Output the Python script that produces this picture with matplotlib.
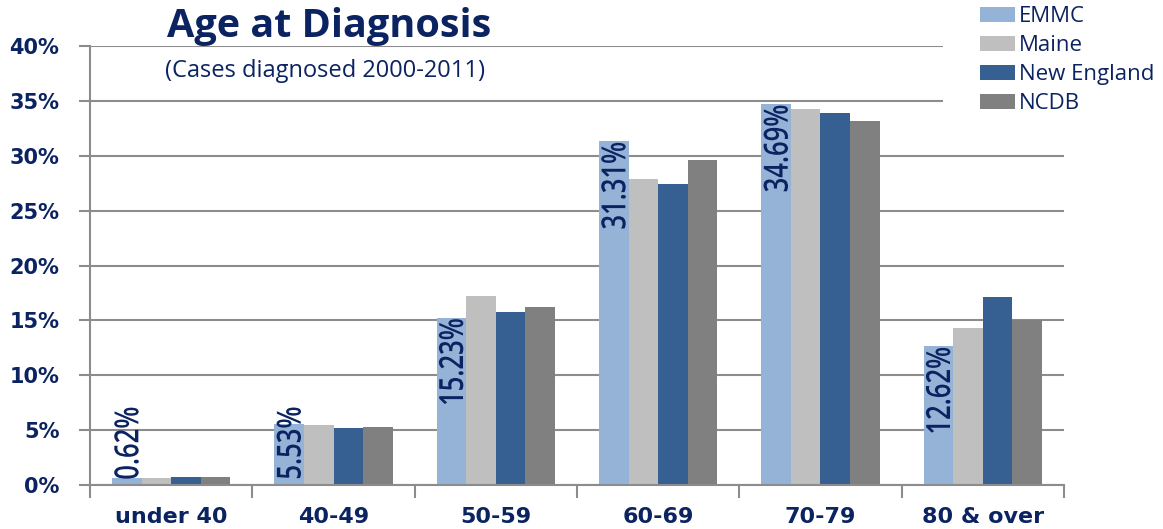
import numpy as np
import matplotlib
matplotlib.use("Agg")
import matplotlib.pyplot as plt
from matplotlib.patheffects import AbstractPathEffect
from matplotlib.transforms import Affine2D, offset_copy

# data (percent of cases)
age_groups = ["under 40", "40-49", "50-59", "60-69", "70-79", "80 & over"]
series_names = ["EMMC", "Maine", "New England", "NCDB"]
emmc = [0.62, 5.53, 15.23, 31.31, 34.69, 12.62]
maine = [0.68, 5.45, 17.25, 27.9, 34.25, 14.27]
new_england = [0.77, 5.15, 15.75, 27.4, 33.9, 17.1]
ncdb = [0.77, 5.33, 16.2, 29.6, 33.2, 15.0]
y_ticks = [0, 5, 10, 15, 20, 25, 30, 35, 40]

colors = ["#95B3D7", "#BFBFBF", "#376092", "#808080"]
navy = "#0B2361"
grid_gray = "#8C8C8C"


class Squeeze(AbstractPathEffect):
    # draws the text narrower along its baseline (the labels use a condensed face)
    def __init__(self, sx, keep_end=False):
        super().__init__()
        self.sx = sx
        self.keep_end = keep_end

    def draw_path(self, renderer, gc, tpath, affine, rgbFace=None):
        ext = tpath.get_extents()
        x0 = ext.x1 if self.keep_end else ext.x0
        sq = Affine2D().translate(-x0, 0).scale(self.sx, 1).translate(x0, 0)
        renderer.draw_path(gc, tpath, sq + affine, rgbFace)


fig = plt.figure(figsize=(11.63, 5.29), dpi=100)
ax = fig.add_axes([90 / 1163, 44 / 529, 974 / 1163, 439 / 529])

x = np.arange(len(age_groups))
w = 0.182
all_series = [emmc, maine, new_england, ncdb]
for i, vals in enumerate(all_series):
    ax.bar(x + (i - 1.5) * w, vals, width=w, color=colors[i],
           label=series_names[i], zorder=2)

# rotated value labels on the EMMC bars
label_tr = offset_copy(ax.transData, fig=fig, x=3, y=0, units="dots")
for xi, v in zip(x, emmc):
    txt = "%.2f%%" % v
    if v > 8:
        ax.text(xi - 1.5 * w, v, txt, rotation=90, ha="center", va="top",
                fontsize=24, fontweight="semibold", color=navy, zorder=3,
                family="Open Sans", transform=label_tr,
                path_effects=[Squeeze(0.77, keep_end=True)])
    else:
        ax.text(xi - 1.5 * w, 0.45, txt, rotation=90, ha="center", va="bottom",
                fontsize=24, fontweight="semibold", color=navy, zorder=3,
                family="Open Sans", transform=label_tr,
                path_effects=[Squeeze(0.77)])

ax.set_xlim(-0.5, len(age_groups) - 0.5)
ax.set_ylim(0, 40)
ax.set_yticks(y_ticks)
ax.set_yticklabels(["%d%%" % t for t in y_ticks])
ax.yaxis.grid(True, color=grid_gray, linewidth=1.5)
ax.set_axisbelow(True)

# ticks between categories, labels at the centers
ax.set_xticks(np.arange(len(age_groups) + 1) - 0.5)
ax.set_xticklabels([])
ax.set_xticks(x, minor=True)
ax.set_xticklabels(age_groups, minor=True)
ax.tick_params(axis="x", which="major", length=9, width=1.5, color=grid_gray,
               direction="out")
ax.tick_params(axis="x", which="minor", length=0, pad=16, labelsize=16,
               labelcolor=navy)
ax.tick_params(axis="y", length=8, width=1.5, color=grid_gray, pad=14,
               labelsize=15, labelcolor=navy)
for lab in ax.get_xticklabels(minor=True) + ax.get_yticklabels():
    lab.set_fontweight("bold")

for side in ["top", "right"]:
    ax.spines[side].set_visible(False)
for side in ["left", "bottom"]:
    ax.spines[side].set_color(grid_gray)
    ax.spines[side].set_linewidth(1.5)

fig.text(167 / 1163, 1 - 37 / 529, "Age at Diagnosis", fontsize=28.5,
         fontweight="bold", color=navy, family="Open Sans", va="baseline")
fig.text(165 / 1163, 1 - 77 / 529, "(Cases diagnosed 2000-2011)", fontsize=17,
         color=navy, family="Open Sans", va="baseline")

leg = fig.legend(loc="upper left", bbox_to_anchor=(943 / 1163, 1 + 31 / 529),
                 frameon=True, facecolor="white", edgecolor="none",
                 framealpha=1, fancybox=False, borderpad=1.67,
                 borderaxespad=0, handlelength=1.58, handleheight=0.68,
                 handletextpad=0.18, labelspacing=0.36,
                 prop={"family": "Open Sans", "size": 16})
for t in leg.get_texts():
    t.set_color(navy)

fig.savefig("out.png", dpi=100)
